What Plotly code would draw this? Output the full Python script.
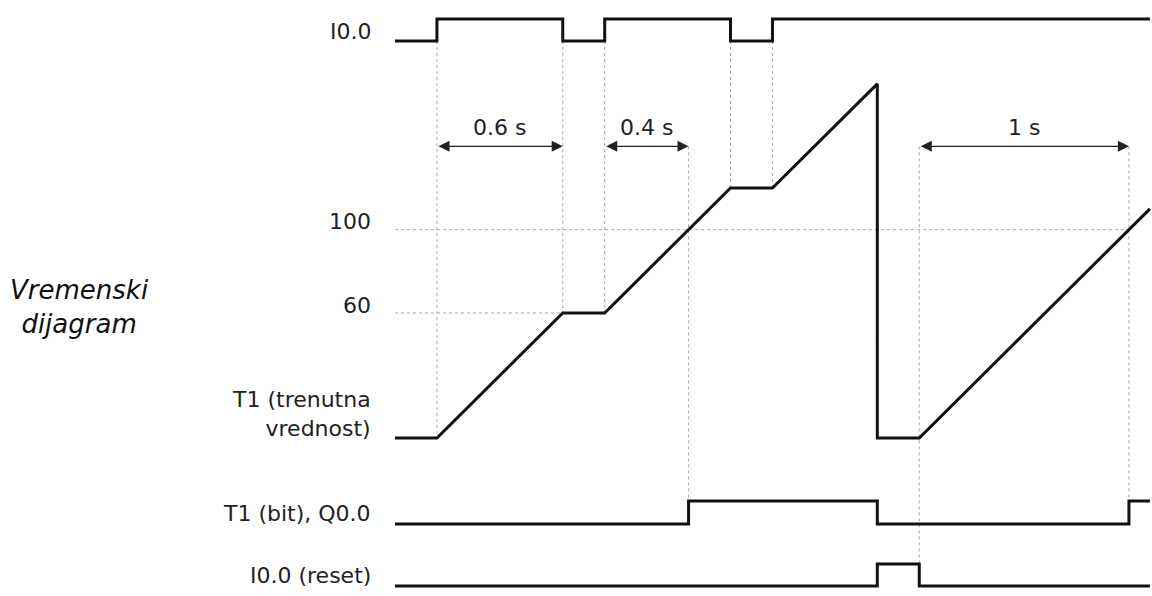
import plotly.graph_objects as go

# ---------------- data ----------------
# I0.0 input (step signal)
t_in = [0.0, 0.2, 0.8, 1.0, 1.6, 1.8, 3.6]
s_in = [0, 1, 0, 1, 0, 1, 1]

# T1 current value (timer count, 10 ms base)
t_t1 = [0.0, 0.2, 0.8, 1.0, 1.6, 1.8, 2.3, 2.3, 2.5, 3.6]
v_t1 = [0, 0, 60, 60, 120, 120, 170, 0, 0, 110]

# T1 bit / Q0.0
t_q = [0.0, 1.4, 2.3, 3.5, 3.6]
s_q = [0, 1, 0, 1, 1]

# I0.0 reset
t_rst = [0.0, 2.3, 2.5, 3.6]
s_rst = [0, 1, 0, 0]

# threshold tick labels on the T1 axis
t1_ticks = [100, 60]
t1_tick_ends = [3.5, 0.8]

# timing arrows (start, end, label)
arr_start = [0.2, 1.0, 2.5]
arr_end = [0.8, 1.4, 3.5]
arr_text = ["0.6 s", "0.4 s", "1 s"]
arr_level = 140

# vertical guide lines: time, (axis, value) top, (axis, value) bottom
guide_t = [0.2, 0.8, 1.0, 1.4, 1.6, 1.8, 2.5, 3.5]
guide_top = [("y", 0), ("y", 0), ("y", 0), ("y2", 140), ("y", 0), ("y", 0), ("y2", 140), ("y2", 140)]
guide_bot = [("y2", 0), ("y2", 60), ("y2", 60), ("y3", 1), ("y2", 120), ("y2", 120), ("y4", 1), ("y3", 1)]

row_labels = ["I0.0", "T1 (trenutna<br>vrednost)", "T1 (bit), Q0.0", "I0.0 (reset)"]
side_title = "<i>Vremenski<br>dijagram</i>"

# ---------------- layout helpers ----------------
W, H = 1152, 596
PX0, PXS = 395.0, 209.7          # pixel of t=0, pixels per second


def paper(p):
    return (H - p) / H


def make_axis(pix_a, val_a, pix_b, val_b, r0, r1):
    scale = (paper(pix_b) - paper(pix_a)) / (val_b - val_a)
    d0 = paper(pix_a) + (r0 - val_a) * scale
    d1 = paper(pix_a) + (r1 - val_a) * scale
    return dict(range=[r0, r1], domain=[d0, d1])


axes = {
    "y": make_axis(41, 0, 19, 1, -0.3, 1.3),
    "y2": make_axis(438, 0, 313, 60, -12, 185),
    "y3": make_axis(524, 0, 501, 1, -0.3, 1.3),
    "y4": make_axis(586, 0, 564, 1, -0.3, 1.3),
}


def to_paper(ax, v):
    a = axes[ax]
    r0, r1 = a["range"]
    d0, d1 = a["domain"]
    return d0 + (v - r0) / (r1 - r0) * (d1 - d0)


LINE = dict(color="#111111", width=3)
FONT = "DejaVu Sans, Verdana, sans-serif"
TXT = "#222222"
FS = 22
GUIDE = dict(color="#a8a8a8", width=1, dash="dot")

fig = go.Figure()
fig.add_trace(go.Scatter(x=t_in, y=s_in, mode="lines", line=dict(shape="hv", **LINE), yaxis="y", hoverinfo="skip"))
fig.add_trace(go.Scatter(x=t_t1, y=v_t1, mode="lines", line=LINE, yaxis="y2", hoverinfo="skip"))
fig.add_trace(go.Scatter(x=t_q, y=s_q, mode="lines", line=dict(shape="hv", **LINE), yaxis="y3", hoverinfo="skip"))
fig.add_trace(go.Scatter(x=t_rst, y=s_rst, mode="lines", line=dict(shape="hv", **LINE), yaxis="y4", hoverinfo="skip"))

shapes = []
for t, (ta, tv), (ba, bv) in zip(guide_t, guide_top, guide_bot):
    shapes.append(dict(type="line", xref="x", yref="paper", x0=t, x1=t,
                       y0=to_paper(ta, tv), y1=to_paper(ba, bv), line=GUIDE, layer="below"))
for val, te in zip(t1_ticks, t1_tick_ends):
    shapes.append(dict(type="line", xref="x", yref="y2", x0=t_t1[0], x1=te, y0=val, y1=val,
                       line=GUIDE, layer="below"))

ann = []
for a, b, txt in zip(arr_start, arr_end, arr_text):
    ann.append(dict(x=b, y=arr_level, ax=a, ay=arr_level, xref="x", yref="y2", axref="x", ayref="y2",
                    text="", showarrow=True, arrowhead=2, startarrowhead=2, arrowside="end+start",
                    arrowsize=1.7, startarrowsize=1.7, arrowwidth=1.3, arrowcolor="#222222",
                    standoff=0, startstandoff=0))
    ann.append(dict(x=(a + b) / 2, y=arr_level, xref="x", yref="y2", text=txt, showarrow=False,
                    yanchor="middle", yshift=19, font=dict(family=FONT, size=FS, color=TXT)))

label_axes = ["y", "y2", "y3", "y4"]
label_shift = [10, 24, 11, 11]
for txt, ax, ys in zip(row_labels, label_axes, label_shift):
    ann.append(dict(x=0, y=0, xref="x", yref=ax, text=txt, showarrow=False, xanchor="right",
                    yanchor="middle", align="right", xshift=-22, yshift=ys,
                    font=dict(family=FONT, size=FS, color=TXT)))
for val in t1_ticks:
    ann.append(dict(x=0, y=val, xref="x", yref="y2", text=str(val), showarrow=False, xanchor="right",
                    yanchor="middle", xshift=-22, yshift=8, font=dict(family=FONT, size=FS, color=TXT)))

ann.append(dict(x=79 / W, y=paper(307), xref="paper", yref="paper", text=side_title, showarrow=False,
                xanchor="center", yanchor="middle", align="center",
                font=dict(family=FONT, size=26, color="#111111")))

hidden = dict(visible=False, showgrid=False, zeroline=False, fixedrange=True)
layout = dict(
    width=W, height=H, margin=dict(l=0, r=0, t=0, b=0),
    paper_bgcolor="white", plot_bgcolor="white", showlegend=False,
    xaxis=dict(range=[-PX0 / PXS, (W - PX0) / PXS], domain=[0, 1], **hidden),
    shapes=shapes, annotations=ann,
)
layout["yaxis"] = dict(anchor="x", **axes["y"], **hidden)
layout["yaxis2"] = dict(anchor="x", **axes["y2"], **hidden)
layout["yaxis3"] = dict(anchor="x", **axes["y3"], **hidden)
layout["yaxis4"] = dict(anchor="x", **axes["y4"], **hidden)
fig.update_layout(**layout)

fig.write_html("out.html", config=dict(displayModeBar=False),
               post_script="document.body.style.margin='0';document.body.style.overflow='hidden';")
